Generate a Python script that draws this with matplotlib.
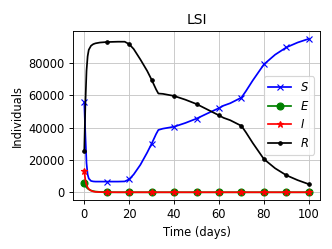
import matplotlib
matplotlib.use('Agg')
import matplotlib.pyplot as plt

# Time points (days)
t = [0, 0.5, 1, 1.5, 2, 3, 4, 5, 7, 10, 15, 18, 20, 22, 25, 28, 30, 32, 33, 35,
     40, 45, 50, 55, 60, 62, 65, 70, 72, 75, 80, 85, 90, 95, 100]

S = [55500, 35000, 18000, 11000, 8500, 7000, 6700, 6600, 6600, 6600, 6600, 6700,
     8000, 11000, 17000, 24500, 30000, 36000, 38500, 39300, 40500, 42800, 45500,
     48800, 52000, 53500, 55000, 58500, 62500, 69000, 79000, 85000, 89500, 92500, 94800]
E = [5500, 4000, 3000, 2300, 1800, 1100, 700, 450, 200, 50, 0, 0, 0, 0, 0, 0, 0, 0,
     0, 0, 0, 0, 0, 0, 0, 0, 0, 0, 0, 0, 0, 0, 0, 0, 0]
I = [13000, 7500, 4500, 3000, 2000, 1000, 500, 250, 80, 20, 0, 0, 0, 0, 0, 0, 0, 0,
     0, 0, 0, 0, 0, 0, 0, 0, 0, 0, 0, 0, 0, 0, 0, 0, 0]
R = [25500, 55000, 75000, 84000, 88000, 90500, 91500, 92000, 92500, 92800, 93000, 93000,
     91500, 88500, 82000, 75000, 69500, 63500, 61000, 60800, 59500, 57200, 54500,
     51000, 47500, 46000, 44500, 41000, 37000, 30500, 20500, 14800, 10500, 7500, 5000]

# markers every 10 days
marks = [i for i, v in enumerate(t) if v % 10 == 0]

fig = plt.figure(figsize=(4, 3), dpi=83)
ax = fig.add_axes([0.22, 0.197, 0.744, 0.678])

ax.plot(t, S, 'b-', marker='x', markevery=marks, label='$S$')
ax.plot(t, E, 'g-', marker='o', markevery=marks, label='$E$')
ax.plot(t, I, 'r-', marker='*', markevery=marks, label='$I$')
ax.plot(t, R, 'k-', marker='.', markevery=marks, label='$R$')

ax.set_title('LSI')
ax.set_xlabel('Time (days)')
ax.set_ylabel('Individuals')
ax.set_xticks([0, 20, 40, 60, 80, 100])
ax.set_yticks([0, 20000, 40000, 60000, 80000])
ax.grid(True, color='#c8c8c8')
ax.legend(loc='center right')

plt.savefig('out.png', dpi=83)
